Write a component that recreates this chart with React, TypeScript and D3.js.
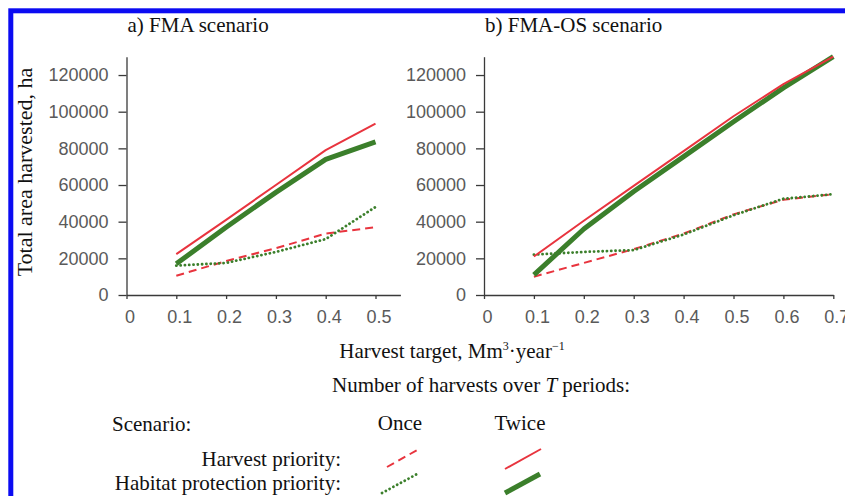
import React, { useEffect, useRef } from 'react';
import * as d3 from 'd3';

// harvest targets (Mm3/year) for each panel
const targetsA = [0.1, 0.2, 0.3, 0.4, 0.5];
const targetsB = [0.1, 0.2, 0.3, 0.4, 0.5, 0.6, 0.7];

// a) FMA scenario, total area harvested (ha)
const harvestOnceA = [10500, 18500, 25500, 33500, 37000];
const habitatOnceA = [16000, 17500, 23500, 30500, 48000];
const harvestTwiceA = [22300, 41000, 60000, 79000, 93500];
const habitatTwiceA = [17000, 37000, 56000, 74000, 83500];

// b) FMA-OS scenario
const harvestOnceB = [10000, 17500, 25000, 33500, 44000, 52000, 55000];
const habitatOnceB = [22000, 23500, 24500, 33000, 43500, 52500, 55000];
const harvestTwiceB = [21000, 40500, 59500, 78500, 97500, 115000, 130000];
const habitatTwiceB = [11000, 36000, 56500, 75500, 94500, 113000, 130000];

const yTicks = [0, 20000, 40000, 60000, 80000, 100000, 120000];
const xTicksA = [0, 0.1, 0.2, 0.3, 0.4, 0.5];
const xTicksB = [0, 0.1, 0.2, 0.3, 0.4, 0.5, 0.6, 0.7];

const RED = '#e8343e';
const GREEN = '#3b7f2b';
const SERIF = '"Liberation Serif", "Times New Roman", serif';
const SANS = '"Liberation Sans", Arial, sans-serif';

const styles = {
  harvestOnce: { color: RED, width: 2, dash: '8,5', cap: 'butt' },
  habitatOnce: { color: GREEN, width: 2.8, dash: '0.1,4.2', cap: 'round' },
  habitatTwice: { color: GREEN, width: 5, dash: null, cap: 'butt' },
  harvestTwice: { color: RED, width: 2, dash: null, cap: 'butt' },
};

const App = () => {
  const svgRef = useRef(null);

  useEffect(() => {
    const svg = d3.select(svgRef.current);
    svg.selectAll('*').remove();

    svg.append('rect').attr('width', 845).attr('height', 496).attr('fill', '#fff');

    // blue frame
    svg.append('rect')
      .attr('x', 10.8).attr('y', 10.8)
      .attr('width', 900).attr('height', 600)
      .attr('fill', 'none')
      .attr('stroke', '#0b0bf2')
      .attr('stroke-width', 5);

    const y = d3.scaleLinear().domain([0, 130000]).range([295, 56.7]);

    const applyStyle = (sel, st) => {
      sel.attr('fill', 'none')
        .attr('stroke', st.color)
        .attr('stroke-width', st.width)
        .attr('stroke-linecap', st.cap)
        .attr('stroke-linejoin', 'round');
      if (st.dash) sel.attr('stroke-dasharray', st.dash);
      return sel;
    };

    const drawPanel = (left, right, xMax, xTicks, targets, series, title) => {
      const x = d3.scaleLinear().domain([0, xMax]).range([left, right]);

      const yAxis = svg.append('g')
        .attr('transform', `translate(${left},0)`)
        .call(d3.axisLeft(y).tickValues(yTicks).tickSize(8).tickSizeOuter(0).tickPadding(10).tickFormat(d3.format('d')));

      const xAxis = svg.append('g')
        .attr('transform', `translate(0,${y(0)})`)
        .call(d3.axisBottom(x).tickValues(xTicks).tickSize(4).tickSizeOuter(0).tickPadding(11)
          .tickFormat(d => (d === 0 ? '0' : d3.format('.1f')(d))));
      xAxis.selectAll('.tick text').attr('dx', 3);

      [yAxis, xAxis].forEach(ax => {
        ax.attr('font-family', SANS).attr('font-size', 18);
        ax.select('.domain').attr('stroke', '#3a3a3a').attr('stroke-width', 1.3);
        ax.selectAll('.tick line').attr('stroke', '#3a3a3a').attr('stroke-width', 1.3);
        ax.selectAll('.tick text').attr('fill', '#5a5a5a');
      });

      const line = d3.line().x(d => x(d[0])).y(d => y(d[1]));

      series.forEach(({ values, key }) => {
        applyStyle(svg.append('path').datum(targets.map((t, i) => [t, values[i]])).attr('d', line), styles[key]);
      });

      svg.append('text')
        .attr('x', left + 1).attr('y', 32)
        .attr('font-family', SERIF).attr('font-size', 21).attr('fill', '#111')
        .text(title);
    };

    drawPanel(126.5, 400.4, 0.55, xTicksA, targetsA, [
      { key: 'harvestOnce', values: harvestOnceA },
      { key: 'habitatOnce', values: habitatOnceA },
      { key: 'habitatTwice', values: habitatTwiceA },
      { key: 'harvestTwice', values: harvestTwiceA },
    ], 'a) FMA scenario');

    drawPanel(484, 833.3, 0.7, xTicksB, targetsB, [
      { key: 'harvestOnce', values: harvestOnceB },
      { key: 'habitatOnce', values: habitatOnceB },
      { key: 'habitatTwice', values: habitatTwiceB },
      { key: 'harvestTwice', values: harvestTwiceB },
    ], 'b) FMA-OS scenario');

    // y axis title
    svg.append('text')
      .attr('transform', 'translate(32,172) rotate(-90)')
      .attr('text-anchor', 'middle')
      .attr('font-family', SERIF).attr('font-size', 22).attr('fill', '#111')
      .text('Total area harvested, ha');

    // x axis title
    const xt = svg.append('text')
      .attr('x', 452).attr('y', 358)
      .attr('text-anchor', 'middle')
      .attr('font-family', SERIF).attr('font-size', 21).attr('fill', '#111');
    xt.append('tspan').text('Harvest target, Mm');
    xt.append('tspan').attr('font-size', 12).attr('dy', -8).text('3');
    xt.append('tspan').attr('dy', 8).text('\u00b7year');
    xt.append('tspan').attr('font-size', 12).attr('dy', -8).text('\u22121');

    // legend
    const legendText = (txt, x, yy, anchor) => svg.append('text')
      .attr('x', x).attr('y', yy)
      .attr('text-anchor', anchor)
      .attr('font-family', SERIF).attr('font-size', 21).attr('fill', '#111')
      .text(txt);

    const head = svg.append('text')
      .attr('x', 481).attr('y', 392)
      .attr('text-anchor', 'middle')
      .attr('font-family', SERIF).attr('font-size', 21).attr('fill', '#111');
    head.append('tspan').text('Number of harvests over ');
    head.append('tspan').attr('font-style', 'italic').text('T');
    head.append('tspan').text(' periods:');

    legendText('Scenario:', 112, 431, 'start');
    legendText('Once', 400, 430, 'middle');
    legendText('Twice', 520, 430, 'middle');
    legendText('Harvest priority:', 341, 466, 'end');
    legendText('Habitat protection priority:', 341, 490, 'end');

    const swatch = (key, x1, y1, x2, y2) => {
      applyStyle(svg.append('line').attr('x1', x1).attr('y1', y1).attr('x2', x2).attr('y2', y2), styles[key]);
    };
    swatch('harvestOnce', 387, 467, 419, 449);
    swatch('habitatOnce', 382, 493, 419, 473);
    swatch('harvestTwice', 505, 469, 541, 449);
    swatch('habitatTwice', 505, 493, 540, 474);
  }, []);

  return (
    <svg
      ref={svgRef}
      width={845}
      height={496}
      style={{ position: 'absolute', left: 0, top: 0, display: 'block' }}
    />
  );
};

export default App;
